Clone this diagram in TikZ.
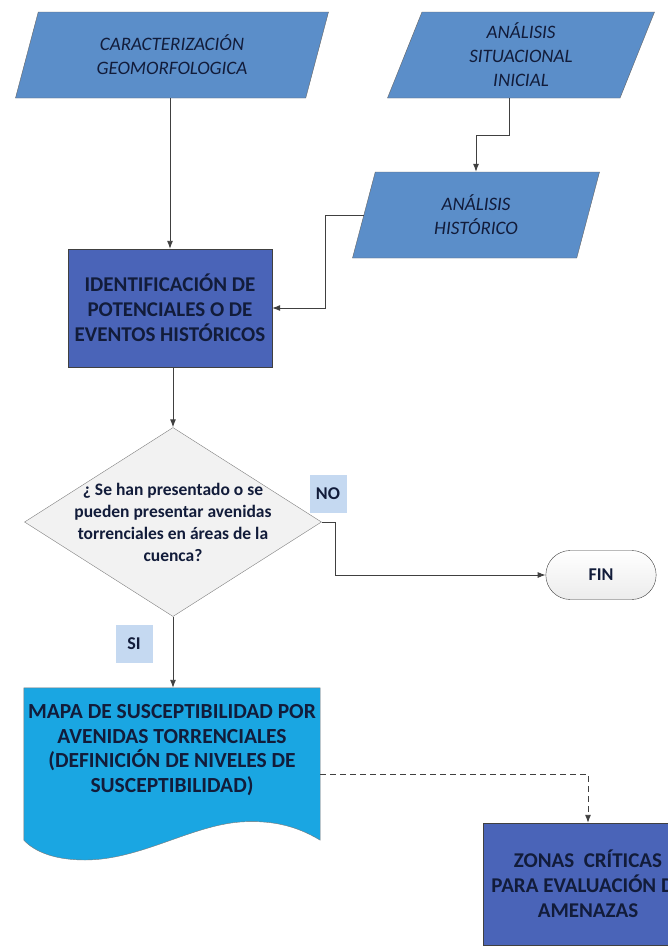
\documentclass[tikz,border=0pt]{standalone}
\usepackage{fontspec}
\setmainfont{Carlito}
\usetikzlibrary{shapes,arrows.meta,positioning,backgrounds}
\definecolor{azuldato}{RGB}{91,142,201}
\definecolor{azulproc}{RGB}{74,100,184}
\definecolor{celeste}{RGB}{26,166,226}
\definecolor{etiqueta}{RGB}{197,217,241}
\definecolor{tinta}{RGB}{18,28,58}
\definecolor{linea}{RGB}{64,64,64}
\tikzstyle{dato}=[trapezium,trapezium left angle=64,trapezium right angle=116,trapezium stretches body,draw=linea!80,fill=azuldato,align=center,minimum height=86,text=tinta,font=\fontsize{19}{24}\selectfont\itshape]
\tikzstyle{proc}=[rectangle,draw=linea,fill=azulproc,align=center,text=tinta,font=\fontsize{21}{25}\selectfont\bfseries]
\tikzstyle{rombo}=[diamond,draw=gray,fill=gray!10,inner sep=0,minimum width=297,minimum height=189]
\tikzstyle{rombotxt}=[align=center,text=tinta,font=\fontsize{17.5}{22}\selectfont\bfseries]
\tikzstyle{docu}=[rectangle,inner sep=0,minimum width=296,minimum height=152]
\tikzstyle{docutxt}=[align=center,text=tinta,font=\fontsize{21.5}{24.5}\selectfont\bfseries]
\tikzstyle{term}=[rounded rectangle,draw=linea,top color=white,bottom color=gray!15,minimum width=117,minimum height=49,text=tinta,font=\fontsize{18}{21}\selectfont\bfseries]
\tikzstyle{etq}=[rectangle,fill=etiqueta,minimum width=37,minimum height=38,text=tinta,font=\fontsize{18}{21}\selectfont\bfseries]
\tikzstyle{arr}=[-{Latex[length=8,width=6]},draw=linea,line width=0.9pt]
\begin{document}
\begin{tikzpicture}[x=1pt,y=-1pt]
\useasboundingbox (0,0) rectangle (668,946);
\node[dato,minimum width=313] (geo) at (172,55) {CARACTERIZACIÓN\\GEOMORFOLOGICA};
\node[dato,minimum width=267] (sit) at (521,55) {ANÁLISIS\\SITUACIONAL\\INICIAL};
\node[dato,minimum width=247] (hist) at (476,215) {ANÁLISIS\\HISTÓRICO};
\node[proc,minimum width=204,minimum height=118] (ident) at (170,308) {IDENTIFICACIÓN DE\\POTENCIALES O DE\\EVENTOS HISTÓRICOS};
\node[rombo,label={[rombotxt]center:{¿ Se han presentado o se\\pueden presentar avenidas\\torrenciales en áreas de la\\cuenca?}}] (preg) at (173,522) {};
\node[etq] (no) at (328,494) {NO};
\node[term] (fin) at (601,575) {FIN};
\node[etq] (si) at (134,644) {SI};
\node[docu,label={[docutxt,yshift=14]center:{MAPA DE SUSCEPTIBILIDAD POR\\AVENIDAS TORRENCIALES\\(DEFINICIÓN DE NIVELES DE\\SUSCEPTIBILIDAD)}}] (mapa) at (172,764) {};
\node[proc,minimum width=210,minimum height=122] (zonas) at (588,884) {ZONAS\ \ CRÍTICAS\\PARA EVALUACIÓN DE\\AMENAZAS};
% fondo y forma de documento
\begin{scope}[on background layer]
\fill[white] (0,0) rectangle (668,946);
\draw[draw=linea!70,fill=celeste] (mapa.north west) -- (mapa.north east) -- (mapa.south east)
  .. controls (295,825) and (270,820) .. (240,822)
  .. controls (190,826) and (140,860) .. (85,860)
  .. controls (55,860) and (35,852) .. (mapa.south west) -- cycle;
\end{scope}
\draw[arr] (geo.south -| ident.north) -- (ident.north);
\draw[arr] ([xshift=-12]sit.south) -- ++(0,37) -| (hist.north);
\draw[arr] (hist.west) -- ++(-38,0) |- (ident.east);
\draw[arr] (ident.south -| preg.north) -- (preg.north);
\draw[arr] (preg.east) -- ++(14,0) |- (fin.west);
\draw[arr] (preg.south) -- (preg.south |- mapa.north);
\draw[arr,dash pattern=on 6pt off 4pt] ([yshift=-10]mapa.east) -| (zonas.north);
\end{tikzpicture}
\end{document}
